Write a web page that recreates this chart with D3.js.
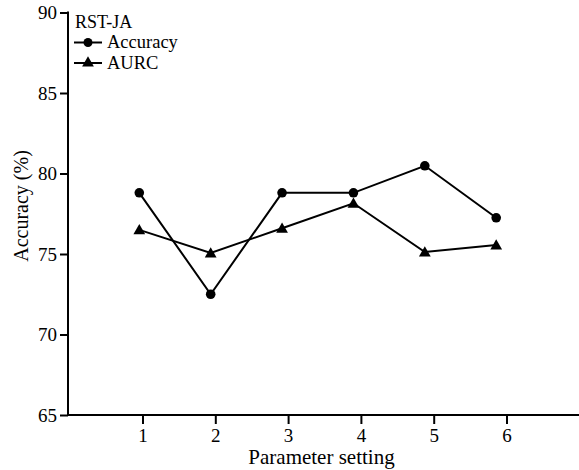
<!DOCTYPE html>
<html><head><meta charset="utf-8">
<script src="https://cdn.jsdelivr.net/npm/d3@7"></script>
<style>
html,body{margin:0;padding:0;background:#fff;}
svg text{font-family:"Liberation Serif","Times New Roman",serif;fill:#000;}
</style>
</head><body>
<svg id="chart" width="579" height="470"></svg>
<script>
const settings = [1, 2, 3, 4, 5, 6];
const accuracy = [78.8, 72.5, 78.8, 78.8, 80.48, 77.25];
const aurc = [76.5, 75.06, 76.6, 78.15, 75.12, 75.56];
const yTicks = [65, 70, 75, 80, 85, 90];
const xTicks = [1, 2, 3, 4, 5, 6];
const legendTitle = "RST-JA";
const seriesNames = ["Accuracy", "AURC"];

const svg = d3.select("#chart");
const y = d3.scaleLinear().domain([65, 90]).range([415, 12.5]);
const xAxisScale = d3.scaleLinear().domain([1, 6]).range([142.5, 506.5]);
const xPoint = d3.scaleLinear().domain([1, 6]).range([139.3, 496.2]);
const axisX = 68;

// y axis
const yAxis = svg.append("g").attr("transform", `translate(${axisX},0)`)
  .call(d3.axisLeft(y).tickValues(yTicks).tickSize(8).tickPadding(3).tickFormat(d3.format("d")));
yAxis.select(".domain").remove();
yAxis.selectAll(".tick line").attr("stroke", "#000").attr("stroke-width", 2);
yAxis.selectAll(".tick text").style("font-size", "19px").attr("dy", "0.34em");
svg.append("line").attr("x1", axisX).attr("x2", axisX)
  .attr("y1", y(90) - 1).attr("y2", y(65) + 1).attr("stroke", "#000").attr("stroke-width", 2);

// x axis
const xg = svg.append("g").attr("transform", `translate(0,${y(65)})`)
  .call(d3.axisBottom(xAxisScale).tickValues(xTicks).tickSize(9).tickPadding(5).tickFormat(d3.format("d")));
xg.select(".domain").remove();
xg.selectAll(".tick line").attr("stroke", "#000").attr("stroke-width", 2);
xg.selectAll(".tick text").style("font-size", "19px").attr("dy", "0.71em");
svg.append("line").attr("x1", axisX - 1).attr("x2", 579)
  .attr("y1", y(65)).attr("y2", y(65)).attr("stroke", "#000").attr("stroke-width", 2);

// axis titles
svg.append("text").attr("x", 321.5).attr("y", 464).attr("text-anchor", "middle")
  .style("font-size", "21px").text("Parameter setting");
svg.append("text").attr("transform", "translate(28,206) rotate(-90)").attr("text-anchor", "middle")
  .style("font-size", "20px").text("Accuracy (%)");

const line = d3.line().x((d, i) => xPoint(settings[i])).y(d => y(d));
const tri = d3.symbol().type(d3.symbolTriangle).size(60);

// AURC
svg.append("path").attr("d", line(aurc)).attr("fill", "none").attr("stroke", "#000").attr("stroke-width", 2);
svg.selectAll(".tri").data(aurc).enter().append("path")
  .attr("d", tri).attr("transform", (d, i) => `translate(${xPoint(settings[i])},${y(d) + 1})`).attr("fill", "#000");

// Accuracy
svg.append("path").attr("d", line(accuracy)).attr("fill", "none").attr("stroke", "#000").attr("stroke-width", 2);
svg.selectAll(".dot").data(accuracy).enter().append("circle")
  .attr("cx", (d, i) => xPoint(settings[i])).attr("cy", d => y(d)).attr("r", 4.8).attr("fill", "#000");

// legend
svg.append("text").attr("x", 75).attr("y", 28).style("font-size", "18px").text(legendTitle);
const lg = [{name: seriesNames[0], y: 42.5, m: "circle"}, {name: seriesNames[1], y: 63, m: "tri"}];
lg.forEach(l => {
  svg.append("line").attr("x1", 74).attr("x2", 102).attr("y1", l.y).attr("y2", l.y)
    .attr("stroke", "#000").attr("stroke-width", 2);
  if (l.m === "circle") svg.append("circle").attr("cx", 88).attr("cy", l.y).attr("r", 4.5).attr("fill", "#000");
  else svg.append("path").attr("d", tri).attr("transform", `translate(88,${l.y})`).attr("fill", "#000");
  svg.append("text").attr("x", 107).attr("y", l.y + 5.5).style("font-size", "18.5px").text(l.name);
});
</script>
</body></html>
